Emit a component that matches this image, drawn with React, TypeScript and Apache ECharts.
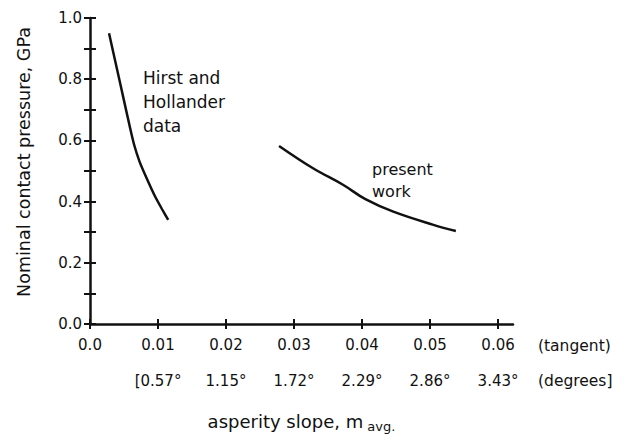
import React, { useEffect, useRef } from "react";
import * as echarts from "echarts";

// ---- data ----
const hirstX = [0.0028, 0.004, 0.005, 0.0058, 0.0065, 0.0073, 0.0083, 0.0095, 0.0106, 0.0115];
const hirstY = [0.95, 0.83, 0.73, 0.65, 0.585, 0.53, 0.478, 0.42, 0.375, 0.34];

const presentX = [0.0278, 0.0328, 0.0372, 0.0405, 0.0446, 0.0505, 0.0538];
const presentY = [0.582, 0.509, 0.455, 0.408, 0.367, 0.324, 0.304];

const xTickValues = [0, 0.01, 0.02, 0.03, 0.04, 0.05, 0.06];
const xTickLabels = ["0.0", "0.01", "0.02", "0.03", "0.04", "0.05", "0.06"];
const degreeValues = [0.01, 0.02, 0.03, 0.04, 0.05, 0.06];
const degreeLabels = ["[0.57°", "1.15°", "1.72°", "2.29°", "2.86°", "3.43°"];
const yTickValues = [0, 0.1, 0.2, 0.3, 0.4, 0.5, 0.6, 0.7, 0.8, 0.9, 1.0];
const yLabelValues = [0, 0.2, 0.4, 0.6, 0.8, 1.0];
const yTickLabels = ["0.0", "0.2", "0.4", "0.6", "0.8", "1.0"];

const FONT = "DejaVu Sans";
const INK = "#111";

export default function App() {
  const ref = useRef<HTMLDivElement>(null);
  useEffect(() => {
    if (!ref.current) return;
    const chart = echarts.init(ref.current, undefined, { renderer: "svg" });
    const X_MAX = 0.0622;
    chart.setOption({
      animation: false,
      backgroundColor: "#fff",
      grid: { left: 90, right: 121, top: 18, bottom: 119, containLabel: false },
      xAxis: [
        {
          type: "value",
          min: 0,
          max: X_MAX,
          position: "bottom",
          splitLine: { show: false },
          axisLine: { show: true, lineStyle: { color: INK, width: 2.5 } },
          axisTick: { show: true, customValues: xTickValues, length: 5, lineStyle: { color: INK, width: 2 } },
          axisLabel: {
            customValues: xTickValues,
            margin: 13,
            color: INK,
            fontFamily: FONT,
            fontSize: 15,
            formatter: (v: number) => xTickLabels[Math.round(v * 100)] ?? "",
          },
          name: "{m|asperity slope, m}{s| avg.}",
          nameLocation: "middle",
          nameGap: 85,
          nameTextStyle: {
            rich: {
              m: { fontFamily: FONT, fontSize: 18, color: INK },
              s: { fontFamily: FONT, fontSize: 13, color: INK, padding: [11, 0, 0, 0] },
            },
          },
        },
        {
          type: "value",
          min: 0,
          max: X_MAX,
          position: "bottom",
          splitLine: { show: false },
          axisLine: { show: false },
          axisTick: { show: true, inside: true, customValues: xTickValues, length: 5, lineStyle: { color: INK, width: 2 } },
          axisLabel: {
            customValues: degreeValues,
            margin: 49,
            color: INK,
            fontFamily: FONT,
            fontSize: 15,
            formatter: (v: number) => degreeLabels[Math.round(v * 100) - 1] ?? "",
          },
        },
      ],
      yAxis: [
        {
          type: "value",
          min: 0,
          max: 1,
          position: "left",
          splitLine: { show: false },
          axisLine: { show: true, lineStyle: { color: INK, width: 2.5 } },
          axisTick: { show: true, customValues: yTickValues, length: 6, lineStyle: { color: INK, width: 2 } },
          axisLabel: {
            customValues: yLabelValues,
            margin: 8,
            color: INK,
            fontFamily: FONT,
            fontSize: 15,
            formatter: (v: number) => yTickLabels[Math.round(v / 0.2)] ?? "",
          },
        },
        {
          type: "value",
          min: 0,
          max: 1,
          position: "left",
          splitLine: { show: false },
          axisLine: { show: false },
          axisTick: { show: true, inside: true, customValues: yTickValues, length: 6, lineStyle: { color: INK, width: 2 } },
          axisLabel: { show: false },
        },
      ],
      series: [
        {
          type: "line",
          name: "Hirst and Hollander data",
          data: hirstX.map((x, i) => [x, hirstY[i]]),
          smooth: 0.2,
          showSymbol: false,
          lineStyle: { color: INK, width: 2.5 },
        },
        {
          type: "line",
          name: "present work",
          data: presentX.map((x, i) => [x, presentY[i]]),
          smooth: 0.4,
          showSymbol: false,
          lineStyle: { color: INK, width: 2.5 },
        },
      ],
      graphic: [
        {
          type: "text",
          x: 24,
          y: 162,
          rotation: Math.PI / 2,
          style: {
            text: "Nominal contact pressure, GPa",
            fontFamily: FONT,
            fontSize: 17.5,
            fill: INK,
            align: "center",
            verticalAlign: "middle",
          },
        },
        {
          type: "text",
          x: 143,
          y: 66,
          style: {
            text: "Hirst and\nHollander\ndata",
            fontFamily: FONT,
            fontSize: 17,
            lineHeight: 24,
            fill: INK,
            align: "left",
            verticalAlign: "top",
          },
        },
        {
          type: "text",
          x: 372,
          y: 158,
          style: {
            text: "present\nwork",
            fontFamily: FONT,
            fontSize: 16,
            lineHeight: 22,
            fill: INK,
            align: "left",
            verticalAlign: "top",
          },
        },
        {
          type: "text",
          x: 538,
          y: 346,
          style: { text: "(tangent)", fontFamily: FONT, fontSize: 15.5, fill: INK, align: "left", verticalAlign: "middle" },
        },
        {
          type: "text",
          x: 538,
          y: 381,
          style: { text: "(degrees]", fontFamily: FONT, fontSize: 15.5, fill: INK, align: "left", verticalAlign: "middle" },
        },
      ],
    });
    return () => chart.dispose();
  }, []);
  return (
    <div
      ref={ref}
      style={{ position: "absolute", left: 0, top: 0, width: 634, height: 443, background: "#fff" }}
    />
  );
}
